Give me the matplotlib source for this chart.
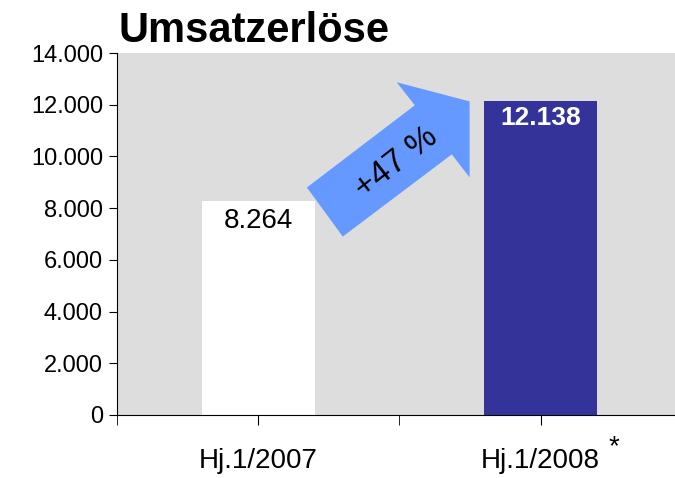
import matplotlib
matplotlib.use("Agg")
import matplotlib.pyplot as plt
from matplotlib.patches import Polygon

plt.rcParams['font.family'] = ['Liberation Sans', 'DejaVu Sans']

# data
categories = ['Hj.1/2007', 'Hj.1/2008']
values = [8264, 12138]
value_labels = ['8.264', '12.138']
bar_colors = ['#FFFFFF', '#333399']
yticks = [0, 2000, 4000, 6000, 8000, 10000, 12000, 14000]
ytick_labels = ['0', '2.000', '4.000', '6.000', '8.000', '10.000', '12.000', '14.000']
growth_label = '+47 %'

fig = plt.figure(figsize=(6.75, 4.78), dpi=100)
ax = fig.add_axes([0.173, 0.132, 0.837, 0.757])
ax.set_facecolor('#DDDDDD')

x = range(len(categories))
ax.bar(x, values, width=0.4, color=bar_colors, zorder=2)

# value labels
ax.text(0, values[0] - 250, value_labels[0], ha='center', va='top',
        fontsize=20, color='black', zorder=3)
ax.text(1, values[1] - 200, value_labels[1], ha='center', va='top',
        fontsize=19, color='white', fontweight='bold', zorder=3)

# growth arrow between the bars
arrow_pts = [(0.173, 8800), (0.555, 11980), (0.491, 12870), (0.749, 12130),
             (0.749, 9190), (0.686, 10080), (0.30, 6900)]
ax.add_patch(Polygon(arrow_pts, closed=True, facecolor='#6699FF',
                     edgecolor='none', zorder=3))
ax.text(0.49, 9750, growth_label, rotation=38, ha='center', va='center',
        fontsize=24, color='black', zorder=4, rotation_mode='anchor')

ax.set_xlim(-0.5, 1.5)
ax.set_ylim(0, 14000)
ax.set_yticks(yticks)
ax.set_yticklabels(ytick_labels, fontsize=17)
ax.set_xticks(list(x))
ax.set_xticklabels(categories, fontsize=20)
ax.set_xticks([-0.5, 0.5], minor=True)
ax.tick_params(axis='x', which='both', direction='out', length=7, pad=17)
ax.tick_params(axis='y', direction='out', length=6, pad=4)

for side in ['top', 'right']:
    ax.spines[side].set_visible(False)
ax.spines['left'].set_color('black')
ax.spines['bottom'].set_color('black')

# asterisk on second label
ax.text(1.26, -1250, '*', ha='center', va='center', fontsize=20,
        clip_on=False)

fig.text(0.176, 0.936, 'Umsatzerlöse', fontsize=30, fontweight='bold',
         ha='left', va='center')

fig.savefig('out.png', dpi=100)
